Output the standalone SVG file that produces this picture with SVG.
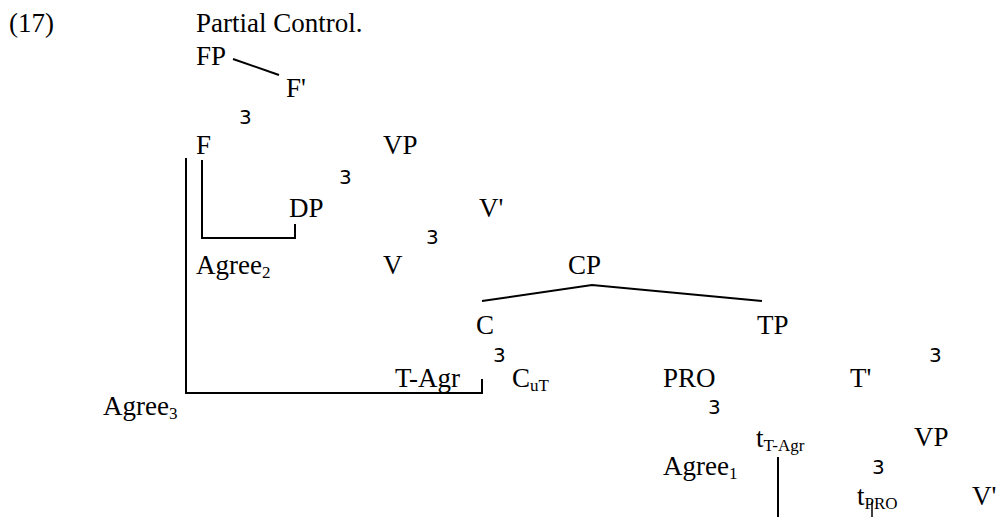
<svg xmlns="http://www.w3.org/2000/svg" width="996" height="517" viewBox="0 0 996 517">
<style>
.t{font-family:"Liberation Serif","Times New Roman",serif;font-size:27px;fill:#000}
.s{font-size:17px}
.n{font-family:"DejaVu Sans","Liberation Sans",sans-serif;font-size:20px;fill:#000}
.l{stroke:#000;stroke-width:2;fill:none}
</style>
<rect width="996" height="517" fill="#fff"/>
<g id="title">
<text class="t" x="9" y="32">(17)</text>
<text class="t" x="196" y="32">Partial Control.</text>
</g>
<g id="FP"><text class="t" x="196" y="65">FP</text></g>
<g id="Fbar"><text class="t" x="286" y="97">F'</text></g>
<g id="b1"><text class="n" x="239" y="124">3</text></g>
<g id="F"><text class="t" x="196" y="154">F</text></g>
<g id="VP1"><text class="t" x="383" y="154">VP</text></g>
<g id="b2"><text class="n" x="339" y="184">3</text></g>
<g id="DP"><text class="t" x="289" y="217">DP</text></g>
<g id="Vbar1"><text class="t" x="479" y="217">V'</text></g>
<g id="b3"><text class="n" x="426" y="244">3</text></g>
<g id="Agree2"><text class="t" x="196" y="274">Agree<tspan class="s" dy="4">2</tspan></text></g>
<g id="V"><text class="t" x="383" y="274">V</text></g>
<g id="CP"><text class="t" x="568" y="274">CP</text></g>
<g id="C"><text class="t" x="476" y="334">C</text></g>
<g id="TP"><text class="t" x="757" y="334">TP</text></g>
<g id="b4"><text class="n" x="493" y="362">3</text></g>
<g id="b5"><text class="n" x="929" y="362">3</text></g>
<g id="TAgr"><text class="t" x="395" y="387">T-Agr</text></g>
<g id="CuT"><text class="t" x="512" y="387">C<tspan class="s" dy="4">uT</tspan></text></g>
<g id="PRO"><text class="t" x="663" y="387">PRO</text></g>
<g id="Tbar"><text class="t" x="850" y="387">T'</text></g>
<g id="Agree3"><text class="t" x="103" y="415">Agree<tspan class="s" dy="4">3</tspan></text></g>
<g id="b6"><text class="n" x="708" y="414">3</text></g>
<g id="tTAgr"><text class="t" x="756" y="447">t<tspan class="s" dy="4">T-Agr</tspan></text></g>
<g id="VP2"><text class="t" x="914" y="446">VP</text></g>
<g id="Agree1"><text class="t" x="663" y="475">Agree<tspan class="s" dy="4">1</tspan></text></g>
<g id="b7"><text class="n" x="872" y="474">3</text></g>
<g id="tPRO"><text class="t" x="857" y="505">t<tspan class="s" dy="4">PRO</tspan></text></g>
<g id="Vbar2"><text class="t" x="972" y="505">V'</text></g>
<g id="connectors">
<line class="l" x1="233" y1="59" x2="279" y2="75"/>
<polyline class="l" points="482,301 592,285 762,301"/>
<polyline class="l" points="202,160 202,238 295,238 295,224"/>
<polyline class="l" points="186,158 186,393 482,393 482,379"/>
<line class="l" x1="778" y1="457" x2="778" y2="517"/>
<line class="l" x1="872" y1="502" x2="872" y2="517" style="stroke-width:1.5"/>
</g>
</svg>
